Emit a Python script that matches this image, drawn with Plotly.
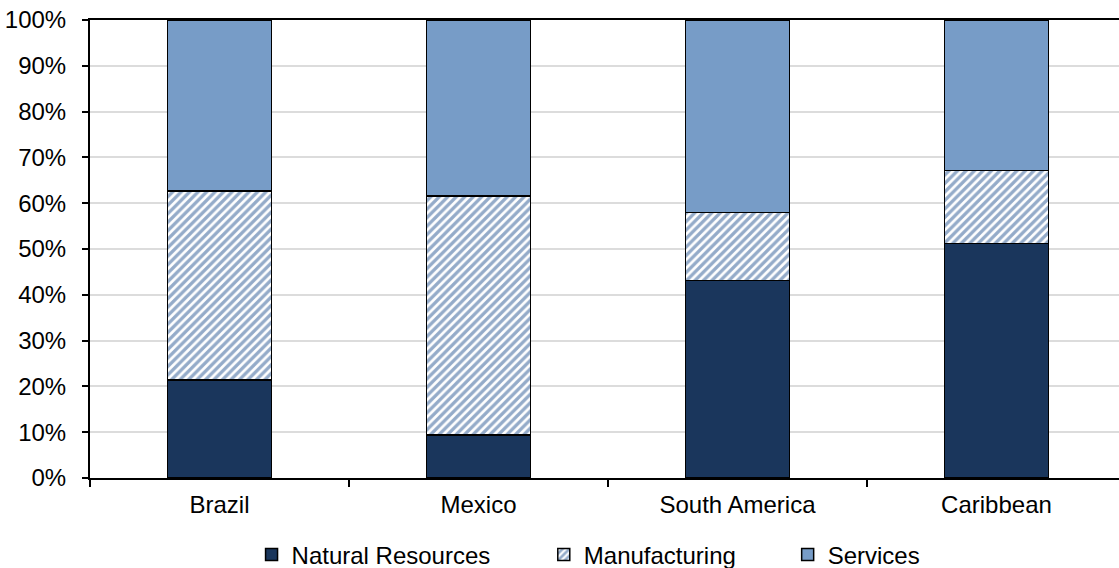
import plotly.graph_objects as go

# Share of each sector by region (percent)
regions = ["Brazil", "Mexico", "South America", "Caribbean"]
natural_resources = [21.4, 9.4, 43.1, 51.2]
manufacturing = [41.3, 52.2, 14.9, 15.9]
services = [37.3, 38.4, 42.0, 32.9]
y_ticks = [0, 10, 20, 30, 40, 50, 60, 70, 80, 90, 100]
y_tick_labels = [f"{v}%" for v in y_ticks]

FONT = "Liberation Sans, Arial, sans-serif"
NAVY = "#1a365c"
LIGHT_BLUE = "#779cc7"
HATCH_BLUE = "#2a5894"

fig = go.Figure()
fig.add_trace(go.Bar(
    name="Natural Resources", x=regions, y=natural_resources,
    marker=dict(color=NAVY, line=dict(color="black", width=1.5)),
    width=0.4, legend="legend",
))
fig.add_trace(go.Bar(
    name="Manufacturing", x=regions, y=manufacturing,
    marker=dict(color="white", line=dict(color="black", width=1.5),
                pattern=dict(shape="/", fgcolor=HATCH_BLUE, bgcolor="white",
                             size=6, solidity=0.55)),
    width=0.4, legend="legend2",
))
fig.add_trace(go.Bar(
    name="Services", x=regions, y=services,
    marker=dict(color=LIGHT_BLUE, line=dict(color="black", width=1.5)),
    width=0.4, legend="legend3",
))

legend_common = dict(
    orientation="h", yanchor="middle", y=-0.168, xanchor="left",
    font=dict(family=FONT, size=24, color="black"),
    bgcolor="rgba(0,0,0,0)", itemwidth=30, tracegroupgap=0,
)

fig.update_layout(
    barmode="stack",
    width=1119, height=568,
    margin=dict(l=90, r=0, t=20, b=90, autoexpand=False),
    plot_bgcolor="white", paper_bgcolor="white",
    font=dict(family=FONT, size=24, color="black"),
    showlegend=True,
    legend=dict(x=0.157, **legend_common),
    legend2=dict(x=0.441, **legend_common),
    legend3=dict(x=0.678, **legend_common),
    xaxis=dict(
        range=[-0.5, 3.473], tickson="boundaries",
        ticks="outside", ticklen=7, tickwidth=2, tickcolor="black",
        showline=True, linecolor="black", linewidth=2, mirror=True,
        showgrid=False, tickfont=dict(family=FONT, size=24),
        ticklabelstandoff=4, automargin=False,
    ),
    yaxis=dict(
        range=[0, 100], tickvals=y_ticks, ticktext=y_tick_labels,
        ticks="outside", ticklen=6, tickwidth=2, tickcolor="black",
        showline=True, linecolor="black", linewidth=2,
        showgrid=True, gridcolor="#dcdcdc", gridwidth=2,
        zeroline=False, tickfont=dict(family=FONT, size=24),
        ticklabelstandoff=11, automargin=False,
    ),
)

fig.write_html("out.html")
